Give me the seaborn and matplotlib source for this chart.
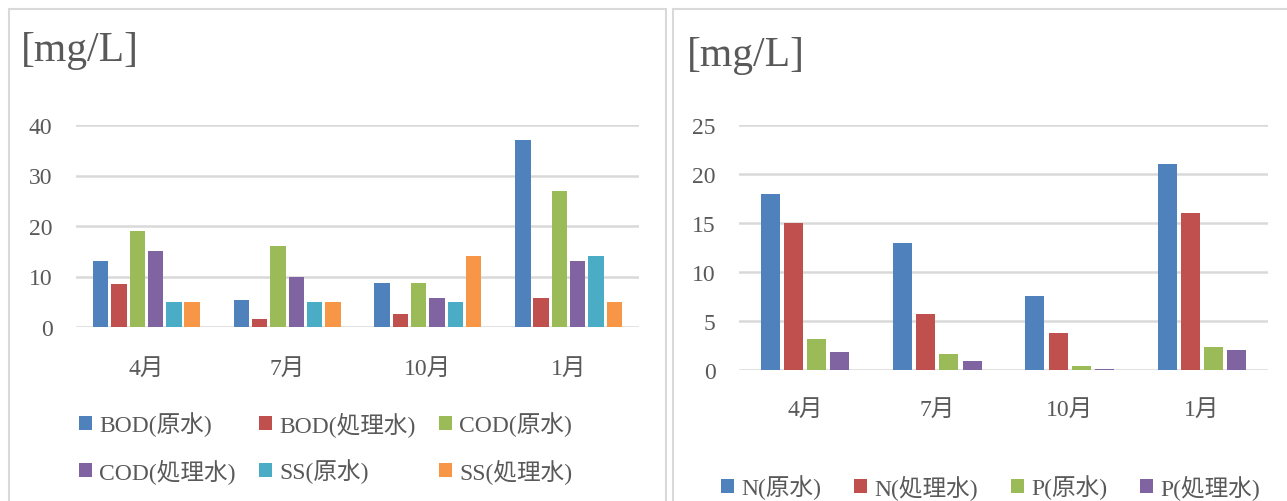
import matplotlib
matplotlib.use("Agg")
import matplotlib.pyplot as plt
import seaborn as sns
import pandas as pd
from matplotlib.patches import Rectangle, Patch

# ---- data -------------------------------------------------------------
months = ["4月", "7月", "10月", "1月"]

# left chart: organic load / suspended solids
left_series = ["BOD(原水)", "BOD(処理水)", "COD(原水)", "COD(処理水)", "SS(原水)", "SS(処理水)"]
bod_raw = [13, 5.4, 8.7, 37]
bod_treated = [8.5, 1.6, 2.6, 5.8]
cod_raw = [19, 16, 8.7, 27]
cod_treated = [15, 10, 5.7, 13]
ss_raw = [5, 5, 5, 14]
ss_treated = [5, 5, 14, 5]

# right chart: nutrients
right_series = ["N(原水)", "N(処理水)", "P(原水)", "P(処理水)"]
n_raw = [18, 13, 7.6, 21]
n_treated = [15, 5.7, 3.8, 16]
p_raw = [3.2, 1.6, 0.4, 2.3]
p_treated = [1.8, 0.9, 0.15, 2.0]

unit_label = "[mg/L]"
left_ticks = [0, 10, 20, 30, 40]
right_ticks = [0, 5, 10, 15, 20, 25]

colors = ["#4F81BD", "#C0504D", "#9BBB59", "#8064A2", "#4BACC6", "#F79646"]

# ---- style ------------------------------------------------------------
sns.set_theme(style="white")
plt.rcParams["font.family"] = ["Liberation Serif", "Noto Sans CJK JP"]
TXT = "#595959"
GRID = "#D9D9D9"

W, H = 1287, 502
fig = plt.figure(figsize=(W / 100, H / 100), dpi=100)


def px_axes(x0, x1, y_top, y_bottom):
    return fig.add_axes([x0 / W, 1 - y_bottom / H, (x1 - x0) / W, (y_bottom - y_top) / H])


def long_frame(series_names, values):
    rows = []
    for name, vals in zip(series_names, values):
        for m, v in zip(months, vals):
            rows.append({"月": m, "項目": name, "値": v})
    return pd.DataFrame(rows)


def draw_panel(ax, df, names, pal, width, gap, ymax, ticks, xpad):
    sns.barplot(data=df, x="月", y="値", hue="項目", hue_order=names, order=months,
                palette=pal, saturation=1, width=width, gap=gap, linewidth=0,
                errorbar=None, legend=False, ax=ax)
    ax.set_ylim(0, ymax)
    ax.set_yticks(ticks)
    ax.set_xlim(-0.5, len(months) - 0.5)
    ax.set_xlabel("")
    ax.set_ylabel("")
    for s in ax.spines.values():
        s.set_visible(False)
    ax.yaxis.grid(True, color=GRID, linewidth=1.8)
    ax.set_axisbelow(True)
    ax.tick_params(axis="both", length=0, colors=TXT)
    ax.tick_params(axis="y", labelsize=17, pad=17)
    ax.tick_params(axis="x", labelsize=17, pad=xpad)


# panel frames
fig.add_artist(Rectangle((8.5 / W, -0.05), (666 - 8.5) / W, 1.05 - 10 / H,
                         transform=fig.transFigure, fill=False, ec=GRID, lw=1.5))
fig.add_artist(Rectangle((672.5 / W, -0.05), (1310 - 672.5) / W, 1.05 - 10 / H,
                         transform=fig.transFigure, fill=False, ec=GRID, lw=1.5))

# left chart
axL = px_axes(76, 639, 126, 328)
dfL = long_frame(left_series, [bod_raw, bod_treated, cod_raw, cod_treated, ss_raw, ss_treated])
draw_panel(axL, dfL, left_series, colors, 0.78, 0.16, 40, left_ticks, 22)

# right chart
axR = px_axes(739, 1268, 126, 371)
dfR = long_frame(right_series, [n_raw, n_treated, p_raw, p_treated])
draw_panel(axR, dfR, right_series, colors[:4], 0.70, 0.18, 25, right_ticks, 21)

# unit labels
fig.text(21 / W, 1 - 51 / H, unit_label, fontsize=30, color=TXT, va="center", ha="left")
fig.text(687 / W, 1 - 56 / H, unit_label, fontsize=30, color=TXT, va="center", ha="left")

# legends (row-wise order for the 3-column layout)
hL = [Patch(facecolor=c, edgecolor="none") for c in colors]
order = [0, 3, 1, 4, 2, 5]
fig.legend([hL[i] for i in order], [left_series[i] for i in order], ncol=3,
           loc="upper left", bbox_to_anchor=(79 / W, 1 - 412 / H), frameon=False,
           fontsize=17, labelcolor=TXT, handlelength=0.55, handleheight=0.55,
           handletextpad=0.3, columnspacing=1.0, labelspacing=0.95, borderpad=0,
           borderaxespad=0)

hR = [Patch(facecolor=c, edgecolor="none") for c in colors[:4]]
fig.legend(hR, right_series, ncol=4, loc="center left",
           bbox_to_anchor=(721 / W, 1 - 488 / H), frameon=False,
           fontsize=17, labelcolor=TXT, handlelength=0.55, handleheight=0.55,
           handletextpad=0.3, columnspacing=1.4, borderpad=0, borderaxespad=0)

fig.savefig("out.png", dpi=100, facecolor="white")
